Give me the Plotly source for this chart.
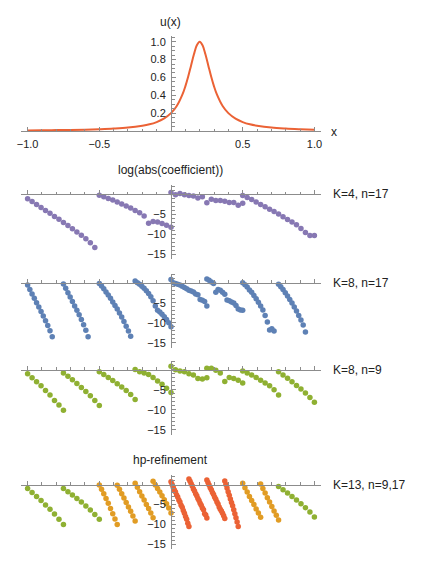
import plotly.graph_objects as go

# --- data ------------------------------------------------------------------
u_x = [-1.0, -0.9, -0.8, -0.7, -0.6, -0.5, -0.4, -0.3, -0.2, -0.15, -0.1, -0.05,
       0.0, 0.04, 0.08, 0.10, 0.12, 0.14, 0.16, 0.18, 0.20, 0.22, 0.24, 0.26,
       0.28, 0.30, 0.32, 0.36, 0.40, 0.45, 0.50, 0.55, 0.60, 0.70, 0.80, 0.90, 1.0]
u_y = [0.007, 0.008, 0.010, 0.012, 0.015, 0.020, 0.027, 0.038, 0.059, 0.075, 0.10, 0.138,
       0.20, 0.28, 0.41, 0.50, 0.61, 0.735, 0.86, 0.96, 1.00, 0.96, 0.86, 0.735,
       0.61, 0.50, 0.41, 0.28, 0.20, 0.138, 0.10, 0.075, 0.059, 0.038, 0.027, 0.020, 0.015]

k4_edges = [-1, -0.5, 0, 0.5, 1]
k4_coef = [
    [-1.2, -1.9, -2.6, -3.4, -4.1, -4.8, -5.6, -6.3, -7.1, -7.9, -8.7, -9.5, -10.3, -11.2, -12.2, -13.4],
    [-0.3, -0.7, -1.1, -1.5, -2.0, -2.5, -3.0, -3.5, -4.1, -4.7, -5.5, -7.3, -6.9, -7.0, -7.4, -7.8, -8.3],
    [0.4, -0.2, 0.1, -0.2, -0.4, -0.5, -1.0, -0.7, -2.2, -1.3, -1.6, -1.6, -1.8, -2.1, -2.1, -2.8, -2.3],
    [-0.4, -0.9, -1.4, -2.0, -2.6, -3.2, -3.8, -4.4, -5.0, -5.7, -6.4, -7.0, -7.7, -8.6, -9.6, -10.4, -10.4],
]

k8_edges = [-1, -0.75, -0.5, -0.25, 0, 0.25, 0.5, 0.75, 1]
k8n17_coef = [
    [-0.6, -1.7, -2.8, -3.9, -5.0, -6.1, -7.2, -8.3, -9.5, -10.7, -12.0, -13.5],
    [-0.3, -1.4, -2.5, -3.6, -4.7, -5.8, -6.9, -8.0, -9.2, -10.5, -11.9, -13.5],
    [-0.2, -0.8, -1.5, -2.3, -3.1, -3.9, -4.8, -5.7, -6.6, -7.6, -8.6, -9.7, -10.9, -12.1, -13.4],
    [0.4, 0.0, -0.4, -0.9, -1.4, -2.0, -2.7, -3.5, -4.5, -5.8, -6.9, -7.3, -7.9, -8.5, -9.2, -10.0, -11.0],
    [0.8, 0.0, -0.2, -0.4, -0.6, -0.9, -1.2, -1.5, -1.9, -2.1, -2.3, -2.8, -3.0, -4.2, -4.4, -4.7, -5.8],
    [0.9, 0.6, 0.2, -0.2, -2.4, -1.7, -1.9, -2.4, -2.9, -4.3, -4.5, -4.8, -5.1, -5.7, -6.6, -6.8, -6.9],
    [0.0, -0.5, -1.1, -1.8, -2.4, -3.2, -4.0, -4.9, -5.8, -6.8, -8.2, -9.8, -11.8, -11.5, -12.1],
    [-0.4, -1.0, -1.7, -2.5, -3.3, -4.2, -5.1, -6.1, -7.1, -8.2, -9.3, -10.6, -12.3],
]
k8n9_coef = [
    [-1.0, -2.0, -3.0, -4.0, -5.2, -6.3, -7.7, -8.8, -10.1],
    [-0.8, -1.6, -2.5, -3.4, -4.4, -5.4, -6.5, -7.7, -8.9],
    [-0.5, -1.2, -1.9, -2.7, -3.5, -4.3, -5.2, -6.2, -7.4],
    [0.1, -0.5, -0.8, -1.2, -1.9, -2.8, -3.6, -4.6, -5.7],
    [0.9, 0.0, -0.3, -0.5, -1.0, -1.3, -2.2, -2.3, -2.0],
    [0.4, 0.4, -0.1, -0.8, -2.9, -1.9, -2.2, -2.6, -3.3],
    [-0.3, -0.8, -1.3, -1.9, -2.6, -3.3, -4.0, -5.0, -6.3],
    [-0.5, -1.3, -2.1, -3.0, -3.9, -4.8, -5.8, -6.9, -8.1],
]

hp_edges = [-1, -0.75, -0.5, -0.375, -0.25, -0.125, 0, 0.125, 0.25, 0.375, 0.5, 0.625, 0.75, 1]
hp_n = [9, 9, 9, 9, 9, 9, 17, 17, 17, 17, 9, 9, 9]
hp_kind = ["p", "p", "h", "h", "h", "h", "hp", "hp", "hp", "hp", "h", "h", "p"]
hp_coef = [
    [-1.0, -2.0, -3.0, -4.0, -5.1, -6.2, -7.4, -8.7, -10.0],
    [-1.0, -1.8, -2.6, -3.5, -4.4, -5.4, -6.4, -7.5, -8.7],
    [-0.1, -1.2, -2.3, -3.5, -4.7, -6.0, -7.3, -8.6, -10.0],
    [-0.2, -1.2, -2.3, -3.4, -4.5, -5.6, -6.7, -7.9, -9.1],
    [0.3, -0.7, -1.8, -2.9, -3.9, -5.0, -6.0, -7.1, -8.3],
    [0.8, -0.1, -1.0, -1.9, -2.8, -3.8, -4.8, -5.9, -7.1],
    [0.7, 0.0, -0.7, -1.4, -1.9, -2.6, -3.1, -3.9, -4.4, -5.2, -5.7, -6.5, -7.2, -8.0, -8.7, -9.7, -10.5],
    [1.4, 0.8, 0.2, -0.4, -1.1, -1.6, -2.3, -2.8, -3.5, -4.0, -4.7, -5.2, -5.9, -6.3, -7.3, -7.6, -8.4],
    [1.1, 0.5, -0.1, -0.8, -1.3, -2.0, -2.5, -3.2, -3.7, -4.4, -4.9, -5.6, -6.2, -6.6, -7.2, -7.8, -8.5],
    [0.9, 0.0, -0.9, -1.8, -2.7, -3.6, -4.5, -5.3, -6.3, -7.3, -8.3, -9.4, -10.5],
    [0.3, -0.8, -1.9, -3.0, -4.0, -5.0, -6.1, -7.1, -8.2],
    [0.1, -1.0, -2.1, -3.3, -4.4, -5.5, -6.6, -7.7, -8.9],
    [-0.5, -1.3, -2.1, -3.0, -3.9, -4.8, -5.8, -6.9, -8.1],
]

# --- styling ----------------------------------------------------------------
RED, ORANGE, GREEN, BLUE, PURPLE = "#EB6235", "#E19C24", "#8FB032", "#5E81B5", "#8778B3"
HP_COLORS = {"p": GREEN, "h": ORANGE, "hp": RED}
AXIS = "#8c8c8c"
FONT = "Liberation Sans, Arial, sans-serif"

OFF = 8                   # page body margin around the plot div
W, H = 436 - 2 * OFF, 564 - 2 * OFF
PLOT_L, PLOT_W = 21 - OFF, 300
XR = [-1.046, 1.046]
PPU = 4.0                 # pixels per log unit in the coefficient panels
CR = [-16.2, 2.3]         # coefficient y range


def frac(py):
    # page pixel row -> paper fraction
    return 1 - (py - OFF) / H


def px(x):
    # page pixel column -> paper fraction
    return (x - OFF - PLOT_L) / PLOT_W


def element_points(edges, ns, coefs):
    xs, ys = [], []
    for k, vals in enumerate(coefs):
        a, b = edges[k], edges[k + 1]
        n = ns[k] if isinstance(ns, list) else ns
        xs.append([a + j * (b - a) / (n - 1) for j in range(len(vals))])
        ys.append(vals)
    return xs, ys


fig = go.Figure()

fig.add_trace(go.Scatter(x=u_x, y=u_y, mode="lines", line=dict(color=RED, width=2, shape="spline"),
                         xaxis="x", yaxis="y", hoverinfo="skip"))

panels = [
    (2, k4_edges, 17, k4_coef, [PURPLE] * 4, "K=4, n=17", 194.0),
    (3, k8_edges, 17, k8n17_coef, [BLUE] * 8, "K=8, n=17", 282.7),
    (4, k8_edges, 9, k8n9_coef, [GREEN] * 8, "K=8, n=9", 369.8),
    (5, hp_edges, hp_n, hp_coef, [HP_COLORS[k] for k in hp_kind], "K=13, n=9,17", 484.5),
]

minor_x = [round(-1 + 0.1 * i, 2) for i in range(21)]
common_x = dict(range=XR, domain=[0, 1], anchor="free", showline=True, linecolor=AXIS, linewidth=1,
                ticks="inside", tickcolor=AXIS, ticklen=4, showgrid=False, zeroline=False, automargin=False,
                minor=dict(tickvals=minor_x, ticks="inside", ticklen=2.5, tickcolor=AXIS, showgrid=False),
                tickfont=dict(family=FONT, size=11, color="#222"))
common_y = dict(anchor="free", position=0.5, side="left", showline=True, linecolor=AXIS, linewidth=1,
                ticks="inside", tickcolor=AXIS, ticklen=4, showgrid=False, zeroline=False, automargin=False,
                ticklabelstandoff=3, tickfont=dict(family=FONT, size=11, color="#222"))

layout = dict(
    xaxis=dict(common_x, position=frac(131), tickvals=[-1, -0.5, 0.5, 1], ticklabelstandoff=3,
               ticktext=["\u22121.0", "\u22120.5", "0.5", "1.0"]),
    yaxis=dict(common_y, range=[-0.01, 1.064], domain=[frac(131.9), frac(36)],
               tickvals=[0.2, 0.4, 0.6, 0.8, 1.0], ticktext=["0.2", "0.4", "0.6", "0.8", "1.0"],
               minor=dict(tickvals=[round(0.05 * i, 2) for i in range(22)], ticks="inside",
                          ticklen=2.5, tickcolor=AXIS, showgrid=False)),
)

annotations = [
    dict(text="u(x)", x=px(170), y=frac(22.5)),
    dict(text="x", x=px(329), y=frac(132.5), xanchor="left"),
    dict(text="log(abs(coefficient))", x=px(170), y=frac(169.5)),
    dict(text="hp-refinement", x=px(170), y=frac(459.5)),
]

for idx, edges, ns, coefs, colors, label, z in panels:
    xs, ys = element_points(edges, ns, coefs)
    for ex, ey, c in zip(xs, ys, colors):
        fig.add_trace(go.Scatter(x=ex, y=ey, mode="markers", marker=dict(color=c, size=5.5),
                                 xaxis=f"x{idx}", yaxis=f"y{idx}", hoverinfo="skip"))
    layout[f"xaxis{idx}"] = dict(common_x, position=frac(z), tickvals=[-1, -0.5, 0, 0.5, 1],
                                 showticklabels=False)
    layout[f"yaxis{idx}"] = dict(common_y, range=CR,
                                 domain=[frac(z - CR[0] * PPU), frac(z - CR[1] * PPU)],
                                 tickvals=[0, -5, -10, -15], ticktext=["", "\u22125", "\u221210", "\u221215"],
                                 minor=dict(tickvals=list(range(-16, 3)), ticks="inside", ticklen=2.5,
                                            tickcolor=AXIS, showgrid=False))
    annotations.append(dict(text=label, x=px(331), y=frac(z), xanchor="left"))

for a in annotations:
    a.setdefault("xanchor", "center")
    a.update(xref="paper", yref="paper", yanchor="middle", showarrow=False,
             font=dict(family=FONT, size=12, color="#222"))

fig.update_layout(**layout, annotations=annotations, width=W, height=H, showlegend=False,
                  margin=dict(l=PLOT_L, r=W - PLOT_L - PLOT_W, t=0, b=0, autoexpand=False),
                  paper_bgcolor="white", plot_bgcolor="white")

fig.write_html("out.html")
